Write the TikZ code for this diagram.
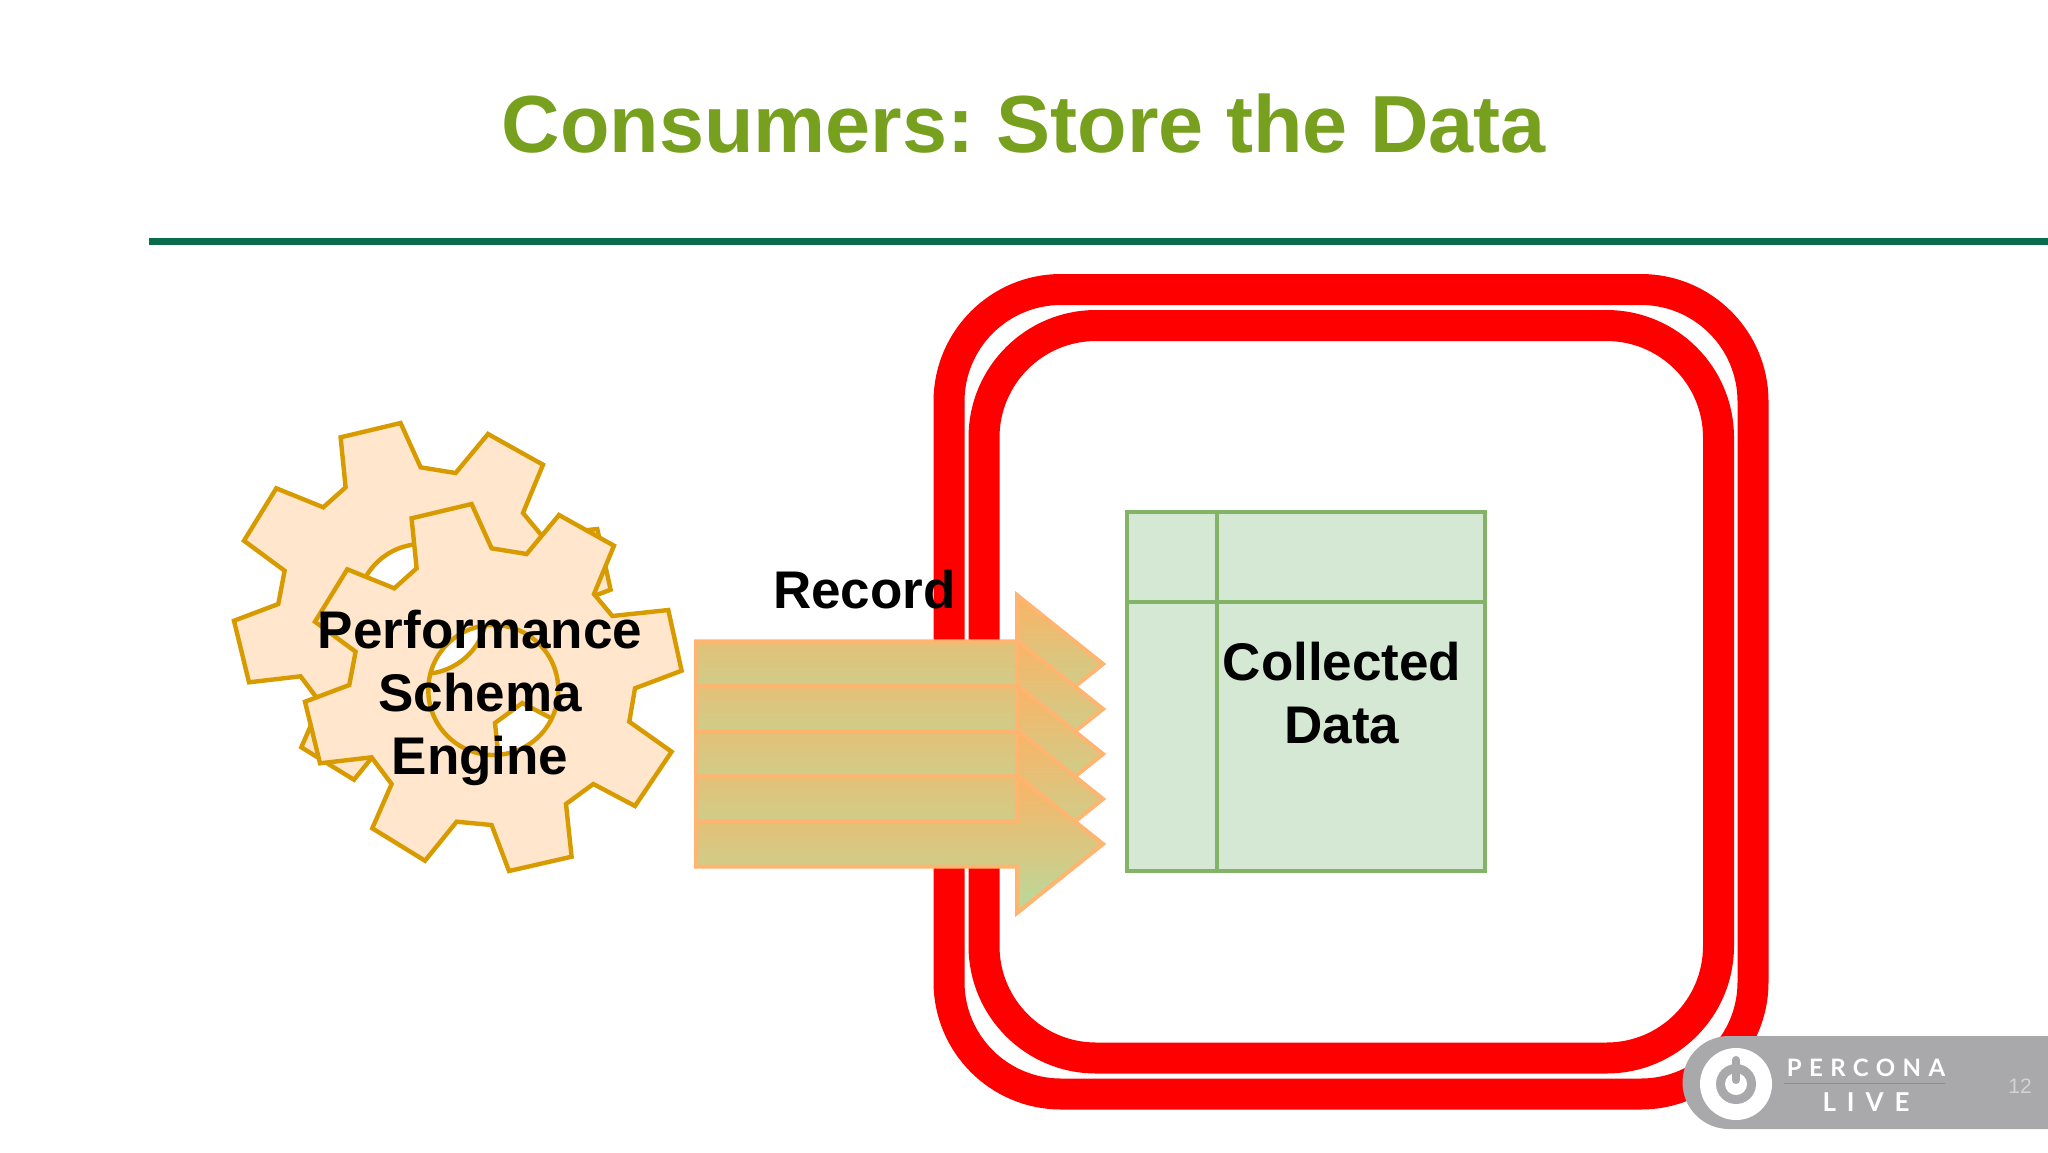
\documentclass[tikz,border=0pt]{standalone}
\usepackage{fontspec}
\usetikzlibrary{positioning}
\setmainfont{Liberation Sans}
\newfontfamily\logofont[LetterSpace=31]{Lato Bold}
\newfontfamily\logoboldfont[LetterSpace=42]{Lato Bold}

\definecolor{titlegreen}{HTML}{76A01D}
\definecolor{rulegreen}{HTML}{0A6C4C}
\definecolor{gearfill}{HTML}{FFE6CC}
\definecolor{gearline}{HTML}{D79B00}
\definecolor{arrowline}{HTML}{FFB570}
\definecolor{arrowtop}{HTML}{FBB364}
\definecolor{arrowbottom}{HTML}{B8DA9C}
\definecolor{tablefill}{HTML}{D5E8D4}
\definecolor{tableline}{HTML}{82B366}
\definecolor{footergrey}{HTML}{A9A8AA}

\newcommand{\gearoutline}{(-81.7,-171.7) -- (-21.7,-186) -- (-1.7,-141.7) -- (33.3,-136) -- (65.7,-175)
	-- (120.7,-144.3) -- (100.7,-96) -- (119,-74) -- (175,-80) -- (188.3,-19.3) -- (141.7,-1.7)
	-- (136,31.7) -- (178.3,61.7) -- (141.7,116) -- (100,94) -- (72.7,114) -- (78.3,166.7)
	-- (15.7,181) -- (-1.7,135) -- (-36.7,131.7) -- (-68.3,170.7) -- (-121,138.3) -- (-101.7,94)
	-- (-121.7,67.3) -- (-173.3,73.3) -- (-188.3,11.7) -- (-144,-5) -- (-137.7,-38.3)
	-- (-178.3,-68.3) -- (-146,-120.7) -- (-99,-101.7) -- (-76.7,-121.7) -- cycle
	(65,0) arc[start angle=0,end angle=360,radius=65]}

\tikzset{
	gear/.style={draw=gearline,fill=gearfill,line width=2.2pt,even odd rule},
	ring/.style={draw=red,line width=15.5pt,rounded corners=56pt},
	recarrow/.style={draw=arrowline,line width=2pt,top color=arrowtop,bottom color=arrowbottom},
	label/.style={font=\fontsize{26.5}{31.35}\selectfont\bfseries,align=center,text=black,inner sep=0pt},
	tableln/.style={draw=tableline,line width=2.2pt}
}

\begin{document}
\frenchspacing
\begin{tikzpicture}[x=0.5pt,y=-0.5pt]
	\useasboundingbox (0,0) rectangle (2048,1152);

	% Title and rule
	\node[font=\fontsize{40.5}{48}\selectfont\bfseries,text=titlegreen,anchor=base,inner sep=0pt] (title) at (1024,152) {Consumers: Store the Data};
	\draw[rulegreen,line width=3.7pt] (149,241.7) -- (2048,241.7);

	% Double border
	\draw[ring] (949,289.5) rectangle (1753,1094);
	\draw[ring] (984,325.5) rectangle (1718.5,1058);

	% Footer
	\fill[footergrey] (2048,1036) -- (1729,1036) arc[start angle=270,end angle=90,radius=46.5] -- (2048,1129) -- cycle;
	\fill[white] (1736,1084) circle[radius=36];
	\fill[footergrey] (1736,1084) circle[radius=20];
	\fill[white] (1736,1084) circle[radius=11];
	\draw[footergrey,line width=4pt,line cap=round] (1736,1060) -- (1736,1080);
	\draw[gray!70!footergrey,line width=0.4pt] (1784,1083) -- (1945,1083);
	\node[font=\logofont\fontsize{12}{14}\selectfont,text=white,inner sep=0pt,anchor=base] (percona) at (1866,1076) {PERCONA};
	\node[font=\logoboldfont\fontsize{13}{15}\selectfont,text=white,inner sep=0pt,anchor=base] (live) at (1866,1111) {LIVE};
	\node[font=\fontsize{10.5}{12}\selectfont\mdseries,text=white!50!footergrey,inner sep=0pt] (page) at (2020,1086) {12};

	% Gears
	\begin{scope}[shift={(422.3,609)}]
		\path[gear] \gearoutline;
	\end{scope}
	\begin{scope}[shift={(493.3,690)}]
		\path[gear] \gearoutline;
	\end{scope}

	% Table
	\node[draw=tableline,fill=tablefill,line width=2.2pt,minimum width=179pt,minimum height=179.5pt,inner sep=0pt] (data) at (1306,691.5) {};
	\draw[tableln] (1217,512) -- (1217,871);
	\draw[tableln] (1127,602) -- (1485,602);

	% Arrows
	\foreach \y in {664,709,754,799,844} {
		\path[recarrow] (696,\y-22.7) -- (1017,\y-22.7) -- (1017,\y-69) -- (1103,\y)
			-- (1017,\y+69) -- (1017,\y+22.7) -- (696,\y+22.7) -- cycle;
	}

	% Labels
	\node[label,anchor=center] (engine) at (480,698) {Performance\\Schema\\Engine};
	\node[label,anchor=base] (record) at (864.5,608) {Record};
	\node[label,anchor=center] (collected) at (1342,693) {Collected\\Data};
\end{tikzpicture}
\end{document}
